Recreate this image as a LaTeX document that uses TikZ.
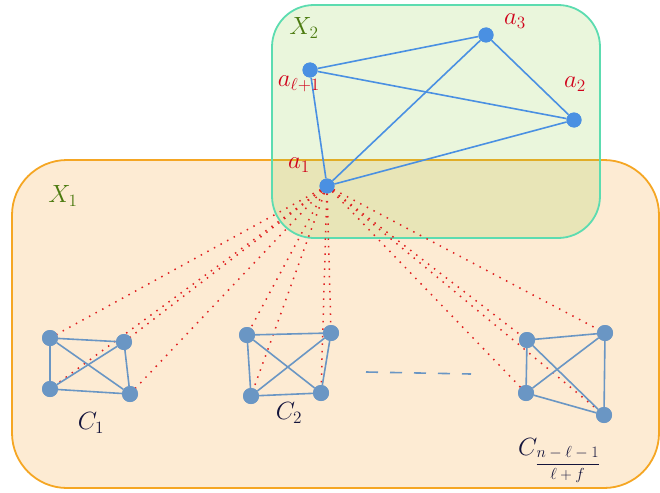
\documentclass[tikz,border=0pt]{standalone}
\newcommand{\mylbl}[1]{\scalebox{1.2}{\huge #1}}
\begin{document}
\begin{tikzpicture}[x=1pt,y=-1pt,
  topv/.style={circle,fill=vblue,inner sep=0pt,minimum size=15pt},
  cv/.style={circle,fill=cblue,inner sep=0pt,minimum size=16pt},
  topedge/.style={draw=vblue,line width=1.6pt},
  cedge/.style={draw=cblue,line width=1.6pt},
  reddot/.style={draw=rdot,line width=1.5pt,dash pattern=on 1.5pt off 6pt},
  alabel/.style={text=lred,inner sep=0pt},
  xlabel/.style={text=lgreen,inner sep=0pt},
  clabel/.style={text=cnavy,inner sep=0pt}]
\definecolor{vblue}{RGB}{74,144,226}
\definecolor{cblue}{RGB}{106,150,196}
\definecolor{rdot}{RGB}{224,32,32}
\definecolor{lred}{RGB}{208,2,27}
\definecolor{lgreen}{RGB}{75,122,15}
\definecolor{cnavy}{RGB}{20,20,60}
\definecolor{ofill}{RGB}{253,235,211}
\definecolor{ostroke}{RGB}{245,166,35}
\definecolor{gfill}{RGB}{139,205,60}
\definecolor{gstroke}{RGB}{92,220,176}
\useasboundingbox (0,0) rectangle (660,492);
% boxes
\draw[fill=ofill,draw=ostroke,line width=1.8pt,rounded corners=55pt] (12,160) rectangle (659,488);
\draw[fill=gfill,fill opacity=0.18,draw=gstroke,line width=1.8pt,rounded corners=42pt] (272,5) rectangle (600,238);
% top vertices
\node[topv] (a1) at (327,186) {};
\node[topv] (al) at (310,70) {};
\node[topv] (a3) at (486,35) {};
\node[topv] (a2) at (574,120) {};
% cliques
\node[cv] (p1) at (50,338) {};
\node[cv] (p2) at (124,342) {};
\node[cv] (p3) at (50,389) {};
\node[cv] (p4) at (130,394) {};
\node[cv] (q1) at (247,335) {};
\node[cv] (q2) at (331,333) {};
\node[cv] (q3) at (251,396) {};
\node[cv] (q4) at (321,393) {};
\node[cv] (r1) at (527,340) {};
\node[cv] (r2) at (605,333) {};
\node[cv] (r3) at (526,393) {};
\node[cv] (r4) at (604,415) {};
% dotted lines
\foreach \v in {p1,p2,p3,p4,q1,q2,q3,q4,r1,r2,r3,r4}
  \draw[reddot] (a1.center) -- (\v.center);
% top edges
\draw[topedge] (al) -- (a3);
\draw[topedge] (al) -- (a2);
\draw[topedge] (al) -- (a1);
\draw[topedge] (a3) -- (a2);
\draw[topedge] (a3) -- (a1);
\draw[topedge] (a2) -- (a1);
% clique edges
\foreach \c in {p,q,r}{
  \draw[cedge] (\c1) -- (\c2);
  \draw[cedge] (\c1) -- (\c3);
  \draw[cedge] (\c1) -- (\c4);
  \draw[cedge] (\c2) -- (\c3);
  \draw[cedge] (\c2) -- (\c4);
  \draw[cedge] (\c3) -- (\c4);
}
% redraw vertices on top
\foreach \v in {p1,p2,p3,p4,q1,q2,q3,q4,r1,r2,r3,r4}
  \node[cv] at (\v) {};
\foreach \v in {a1,al,a3,a2}
  \node[topv] at (\v) {};
% dashes
\coordinate (d1) at (366,372);
\coordinate (d2) at (471,374);
\draw[cedge,dash pattern=on 12pt off 12pt] (d1) -- (d2);
% labels
\node[xlabel] (x2) at (304,28) {\mylbl{$X_2$}};
\node[xlabel] (x1) at (63,196) {\mylbl{$X_1$}};
\node[alabel] (la3) at (515,21) {\mylbl{$a_3$}};
\node[alabel] (la2) at (575,84) {\mylbl{$a_2$}};
\node[alabel] (lal) at (299,84) {\mylbl{$a_{\ell+1}$}};
\node[alabel] (la1) at (299,165) {\mylbl{$a_1$}};
\node[clabel] (c1) at (91,423) {\mylbl{$C_1$}};
\node[clabel] (c2) at (289,413) {\mylbl{$C_2$}};
\node[clabel,anchor=base west] (c3) at (518,455) {\mylbl{$C_{\raisebox{4pt}{\scalebox{0.64}{$\displaystyle\frac{n-\ell-1}{\ell+f}$}}}$}};
\end{tikzpicture}
\end{document}
